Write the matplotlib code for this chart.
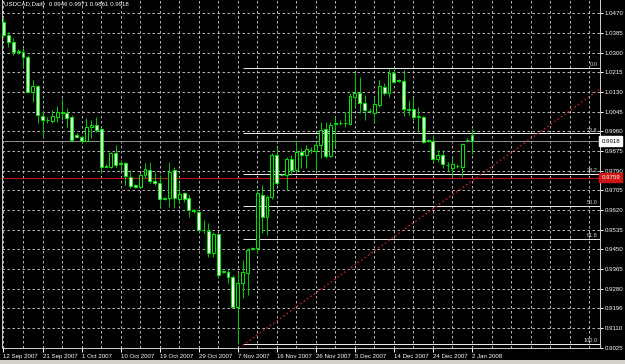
import matplotlib
matplotlib.use("Agg")
import matplotlib.pyplot as plt
import matplotlib.transforms as mtransforms
from matplotlib.patches import Rectangle
import numpy as np

plt.rcParams['font.family'] = ['Liberation Sans', 'DejaVu Sans']

# ---------------- data (USDCAD daily, 12 Sep 2007 .. 2 Jan 2008) ----------------
opens = [1.0434, 1.0376, 1.0347, 1.0305, 1.0304, 1.0280, 1.0131, 1.0156, 1.0026, 1.0011,
         1.0006, 1.0023, 1.0043, 1.0041, 1.0021, 0.9944, 0.9937, 0.9919, 0.9977, 0.9986,
         0.9969, 0.9812, 0.9805, 0.9868, 0.9824, 0.9822, 0.9764, 0.9727, 0.9721, 0.9771,
         0.9793, 0.9747, 0.9737, 0.9672, 0.9671, 0.9793, 0.9666, 0.9692, 0.9671, 0.9619,
         0.9613, 0.9535, 0.9531, 0.9433, 0.9516, 0.9355, 0.9353, 0.9332, 0.9202, 0.9303,
         0.9347, 0.9453, 0.9455, 0.9685, 0.9591, 0.9675, 0.9858, 0.9773, 0.9771, 0.9839,
         0.9793, 0.9872, 0.9858, 0.9881, 0.9876, 0.9901, 0.9969, 0.9853, 0.9992, 0.9996,
         0.9998, 0.9992, 1.0110, 1.0127, 1.0084, 1.0050, 1.0041, 1.0074, 1.0153, 1.0124,
         1.0211, 1.0180, 1.0179, 1.0057, 1.0055, 1.0026, 1.0021, 0.9921, 0.9919, 0.9839,
         0.9858, 0.9816, 0.9800, 0.9811, 0.9807, 0.9921, 0.9946]
highs = [1.0455, 1.0391, 1.0363, 1.0316, 1.0320, 1.0290, 1.0182, 1.0160, 1.0052, 1.0022,
         1.0052, 1.0069, 1.0100, 1.0061, 1.0031, 0.9953, 0.9944, 1.0018, 1.0009, 1.0021,
         0.9973, 0.9817, 0.9872, 0.9901, 0.9836, 0.9829, 0.9793, 0.9732, 0.9779, 0.9824,
         0.9829, 0.9786, 0.9771, 0.9676, 0.9829, 0.9807, 0.9735, 0.9698, 0.9685, 0.9623,
         0.9620, 0.9577, 0.9563, 0.9526, 0.9519, 0.9361, 0.9368, 0.9339, 0.9347, 0.9404,
         0.9455, 0.9460, 0.9706, 0.9728, 0.9685, 0.9865, 0.9894, 0.9778, 0.9850, 0.9858,
         0.9923, 0.9887, 0.9901, 0.9894, 0.9908, 1.0002, 1.0002, 1.0002, 1.0022, 1.0009,
         1.0043, 1.0124, 1.0218, 1.0196, 1.0117, 1.0060, 1.0110, 1.0182, 1.0167, 1.0229,
         1.0232, 1.0185, 1.0227, 1.0095, 1.0104, 1.0066, 1.0026, 0.9926, 0.9944, 0.9879,
         0.9879, 0.9829, 0.9850, 0.9819, 0.9911, 0.9930, 0.9971]
lows = [1.0363, 1.0326, 1.0290, 1.0294, 1.0239, 1.0126, 1.0088, 0.9996, 0.9937, 0.9996,
        0.9996, 1.0002, 1.0009, 0.9980, 0.9914, 0.9931, 0.9911, 0.9915, 0.9930, 0.9958,
        0.9781, 0.9804, 0.9800, 0.9807, 0.9793, 0.9728, 0.9714, 0.9715, 0.9714, 0.9757,
        0.9735, 0.9728, 0.9634, 0.9663, 0.9634, 0.9627, 0.9649, 0.9656, 0.9591, 0.9606,
        0.9526, 0.9519, 0.9418, 0.9418, 0.9325, 0.9347, 0.9303, 0.9195, 0.9040, 0.9239,
        0.9253, 0.9447, 0.9433, 0.9519, 0.9512, 0.9666, 0.9728, 0.9765, 0.9706, 0.9771,
        0.9786, 0.9800, 0.9800, 0.9865, 0.9793, 0.9844, 0.9844, 0.9849, 0.9897, 0.9987,
        0.9979, 0.9987, 1.0066, 1.0038, 1.0009, 1.0041, 1.0002, 1.0066, 1.0117, 1.0110,
        1.0167, 1.0173, 1.0026, 1.0031, 1.0009, 0.9958, 0.9908, 0.9914, 0.9829, 0.9829,
        0.9800, 0.9786, 0.9764, 0.9800, 0.9764, 0.9915, 0.9861]
closes = [1.0376, 1.0347, 1.0304, 1.0303, 1.0280, 1.0131, 1.0156, 1.0031, 1.0009, 1.0007,
          1.0026, 1.0045, 1.0039, 1.0016, 0.9923, 0.9937, 0.9919, 0.9977, 0.9987, 0.9966,
          0.9807, 0.9808, 0.9868, 0.9815, 0.9819, 0.9767, 0.9724, 0.9721, 0.9771, 0.9796,
          0.9747, 0.9735, 0.9668, 0.9669, 0.9786, 0.9671, 0.9689, 0.9666, 0.9620, 0.9616,
          0.9534, 0.9532, 0.9433, 0.9516, 0.9339, 0.9352, 0.9332, 0.9202, 0.9306, 0.9353,
          0.9447, 0.9456, 0.9692, 0.9591, 0.9675, 0.9858, 0.9735, 0.9770, 0.9839, 0.9793,
          0.9872, 0.9858, 0.9882, 0.9878, 0.9901, 0.9966, 0.9853, 0.9987, 0.9996, 0.9998,
          0.9996, 1.0113, 1.0127, 1.0081, 1.0052, 1.0048, 1.0078, 1.0156, 1.0124, 1.0211,
          1.0175, 1.0178, 1.0055, 1.0054, 1.0023, 1.0021, 0.9915, 0.9918, 0.9839, 0.9858,
          0.9819, 0.9813, 0.9819, 0.9809, 0.9905, 0.9924, 0.9918]

date_labels = ["12 Sep 2007", "21 Sep 2007", "1 Oct 2007", "10 Oct 2007", "19 Oct 2007",
               "29 Oct 2007", "7 Nov 2007", "16 Nov 2007", "26 Nov 2007", "5 Dec 2007",
               "14 Dec 2007", "24 Dec 2007", "2 Jan 2008"]
bars_per_label = 8
bars_per_grid = 4

price_ticks = [1.0470, 1.0385, 1.0300, 1.0215, 1.0130, 1.0045, 0.9960, 0.9875, 0.9790,
               0.9705, 0.9620, 0.9535, 0.9450, 0.9365, 0.9280, 0.9196, 0.9110, 0.9025]

title = "USDCAD,Daily  0.9946 0.9971 0.9861 0.9918"
bid_price = 0.9918
red_level = 0.9759

fib_high = 1.0232
fib_low = 0.9040
fib_start_bar = 49
fib_ratios = [0.0, 23.6, 38.2, 50.0, 61.8, 100.0]

trend_x = [49, 122.1]
trend_y = [0.9035, 1.0141]

# ---------------- figure ----------------
W, H = 625, 364
PX = 0.72  # one pixel in points at 100 dpi
fig = plt.figure(figsize=(W / 100, H / 100), dpi=100, facecolor='black')
ax = fig.add_axes([2 / W, 16 / H, 597.5 / W, 348 / H])
ax.set_facecolor('black')

n = len(opens)
x = np.arange(n)
ax.set_xlim(-0.307, 122.13)
ax.set_ylim(0.90238, 1.05275)

# grid
for gx in range(0, 123, bars_per_grid):
    ax.axvline(gx, color='#b4b4b4', lw=PX, ls=(0, (2.5, 2.5)), zorder=1)
for p in price_ticks:
    ax.axhline(p, color='#b4b4b4', lw=PX, ls=(0, (2.5, 2.5)), zorder=1)

# horizontal lines
ax.axhline(bid_price, color='#8c8c8c', lw=PX, zorder=2)
ax.axhline(red_level, color='#c01010', lw=PX, zorder=2)

# fibonacci
right = ax.get_xlim()[1]
for r in fib_ratios:
    lvl = fib_high - r / 100 * (fib_high - fib_low)
    ax.hlines(lvl, fib_start_bar, right, color='#e8e8e8', lw=PX, zorder=2)
    ax.text(121.76, lvl + 0.0004, f"{r:.1f}", ha='right', va='bottom',
            color='#d8d8d8', fontsize=4.0, zorder=6)

# trend line
ax.plot(trend_x, trend_y, color='#c42020', lw=1.0, ls=(0, (1.2, 1.8)), zorder=2)

# candles
o = np.array(opens); c = np.array(closes)
hi = np.array(highs); lo = np.array(lows)
ax.vlines(x, lo, hi, color='#00c800', lw=PX, zorder=3)
fills = ['black' if cc > oo else '#eaffea' for oo, cc in zip(o, c)]
ax.bar(x, np.abs(c - o), bottom=np.minimum(o, c), width=0.6, color=fills,
       edgecolor='#00e600', linewidth=PX, zorder=4)

# spines
for s in ['left', 'bottom', 'right']:
    ax.spines[s].set_color('#c8c8c8')
    ax.spines[s].set_linewidth(PX)
ax.spines['top'].set_visible(False)

# x ticks
ax.set_xticks(np.arange(len(date_labels)) * bars_per_label)
ax.set_xticklabels(date_labels)
for lab in ax.get_xticklabels():
    lab.set_horizontalalignment('left')
ax.tick_params(axis='x', colors='white', labelcolor='white', labelsize=4.4,
               length=3, width=PX, pad=1.2, direction='out')

# y ticks (right)
ax.yaxis.tick_right()
ax.set_yticks(price_ticks)
ax.set_yticklabels([f"{p:.4f}" for p in price_ticks])
ax.tick_params(axis='y', colors='white', labelcolor='white', labelsize=4.4,
               length=2, width=PX, pad=1.5, direction='out')

# price boxes on right axis
trans = mtransforms.blended_transform_factory(ax.transAxes, ax.transData)
ax.text(1.0035, bid_price, f"{bid_price:.4f}", transform=trans, ha='left', va='center',
        fontsize=4.4, color='black', clip_on=False, zorder=10,
        bbox=dict(boxstyle='square,pad=0.35', facecolor='white', edgecolor='white'))
ax.text(1.0035, red_level, f"{red_level:.4f}", transform=trans, ha='left', va='center',
        fontsize=4.4, color='white', clip_on=False, zorder=10,
        bbox=dict(boxstyle='square,pad=0.35', facecolor='#d01414', edgecolor='#d01414'))

# title
fig.text(4 / W, 1 - 4.8 / H, title, ha='left', va='center', color='white', fontsize=4.4)

# bottom window strip
fig.patches.append(Rectangle((0, 0), 1, 4 / H, transform=fig.transFigure,
                             facecolor='#d4d0c8', edgecolor='none'))

fig.savefig('out.png', dpi=100, facecolor='black')
